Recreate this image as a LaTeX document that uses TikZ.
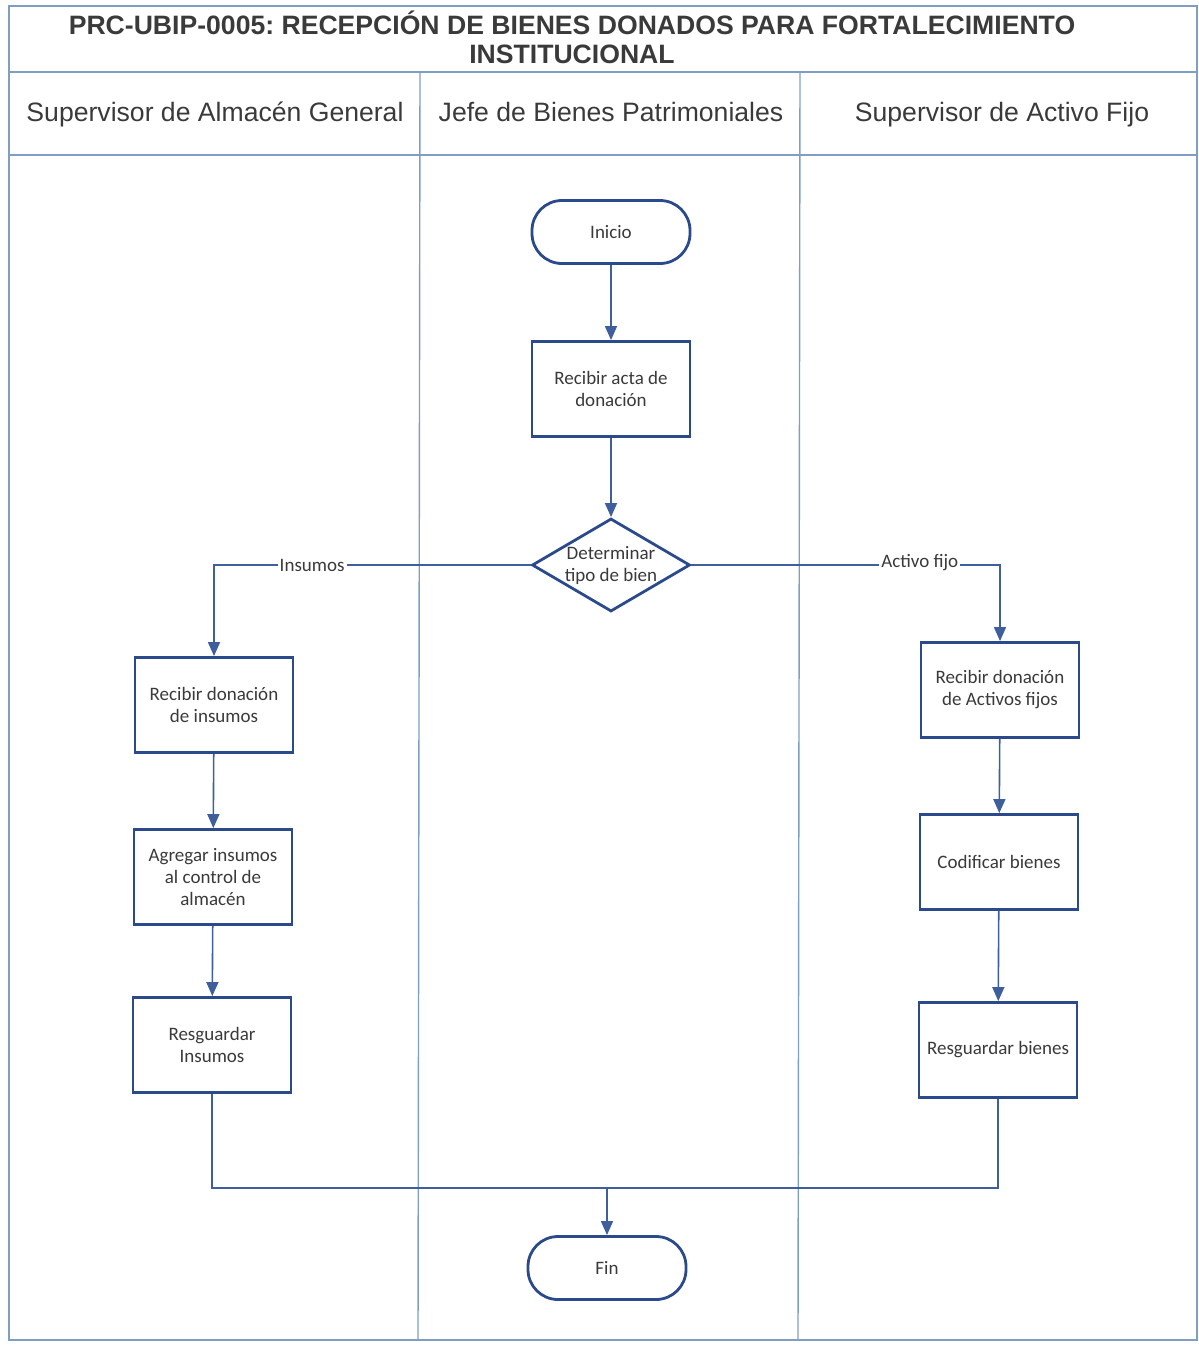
\documentclass[tikz,border=0pt]{standalone}
\usepackage{fontspec}
\setmainfont{Carlito}
\newfontfamily\arialf{Liberation Sans}
\usetikzlibrary{arrows.meta,shapes.geometric}
\definecolor{bord}{HTML}{2B4A8C}
\definecolor{conn}{HTML}{3F5F9C}
\definecolor{lane}{HTML}{7F9EC2}
\definecolor{txt}{HTML}{3A3A3A}
\tikzset{
  procbox/.style={draw=bord, line width=1.4pt, fill=white, minimum width=79pt, minimum height=47.5pt, align=center, font=\fontsize{9.5}{11}\selectfont, text=txt, inner sep=2pt},
  termbox/.style={draw=bord, line width=1.4pt, fill=white, minimum width=79pt, minimum height=31.5pt, rounded corners=15pt, font=\fontsize{9.5}{11}\selectfont, text=txt},
  decbox/.style={diamond, draw=bord, line width=1.4pt, fill=white, minimum width=79pt, minimum height=46.5pt, inner sep=0pt},
  conline/.style={draw=conn, line width=0.8pt},
  arr/.style={conline, -{Triangle[width=6pt,length=7pt]}},
  lbl/.style={fill=white, inner sep=1pt, font=\fontsize{9.5}{11}\selectfont, text=txt},
  laneline/.style={draw=lane, line width=0.7pt},
  hdr/.style={font=\arialf\fontsize{13.3}{15}\selectfont, text=txt, anchor=base},
}
\begin{document}
\frenchspacing
\begin{tikzpicture}[x=0.5pt,y=-0.5pt]
\useasboundingbox (0,0) rectangle (1199,1345);
% frame
\draw[laneline] (9,6) rectangle (1197,1340);
\draw[laneline] (9,72) -- (1197,72);
\draw[laneline] (9,155) -- (1197,155);
\draw[laneline] (420,72) -- (418,1340);
\draw[laneline] (800,72) -- (798,1340);
% title
\node[font=\arialf\bfseries\fontsize{13.3}{14.5}\selectfont, text=txt, align=center, anchor=base] (title) at (572,63) {PRC-UBIP-0005: RECEPCIÓN DE BIENES DONADOS PARA FORTALECIMIENTO\\INSTITUCIONAL};
% headers
\node[hdr] (h1) at (215,121) {Supervisor de Almacén General};
\node[hdr] (h2) at (611,121) {Jefe de Bienes Patrimoniales};
\node[hdr] (h3) at (1002,121) {Supervisor de Activo Fijo};
% nodes
\node[termbox] (ini) at (611,232) {Inicio};
\node[procbox] (acta) at (611,389) {Recibir acta de\\donación};
\node[decbox] (dec) at (611,565) {};
\node[font=\fontsize{9.5}{11}\selectfont, text=txt, align=center] (dect) at (611,565) {Determinar\\tipo de bien};
\node[procbox] (rdi) at (214,705) {Recibir donación\\de insumos};
\node[procbox] (agr) at (213,877) {Agregar insumos\\al control de\\almacén};
\node[procbox] (res1) at (212,1045) {Resguardar\\Insumos};
\node[procbox] (rda) at (1000,690) {Recibir donación\\de Activos fijos};
\node[procbox] (cod) at (999,862) {Codificar bienes};
\node[procbox] (res2) at (998,1050) {Resguardar bienes};
\node[termbox] (fin) at (607,1268) {Fin};
\coordinate (j) at (607,1188);
% connectors
\draw[arr] (ini) -- (acta);
\draw[arr] (acta) -- (dec);
\draw[arr] (dec.west) -| node[lbl, pos=0.345] {Insumos} (rdi.north);
\draw[arr] (dec.east) -| node[lbl, pos=0.37, yshift=1pt] {Activo fijo} (rda.north);
\draw[arr] (rdi) -- (agr);
\draw[arr] (agr) -- (res1);
\draw[arr] (rda) -- (cod);
\draw[arr] (cod) -- (res2);
\draw[conline] (res1.south) -- (res1.south |- j) -- (res2.south |- j) -- (res2.south);
\draw[arr] (j) -- (fin);
\end{tikzpicture}
\end{document}
